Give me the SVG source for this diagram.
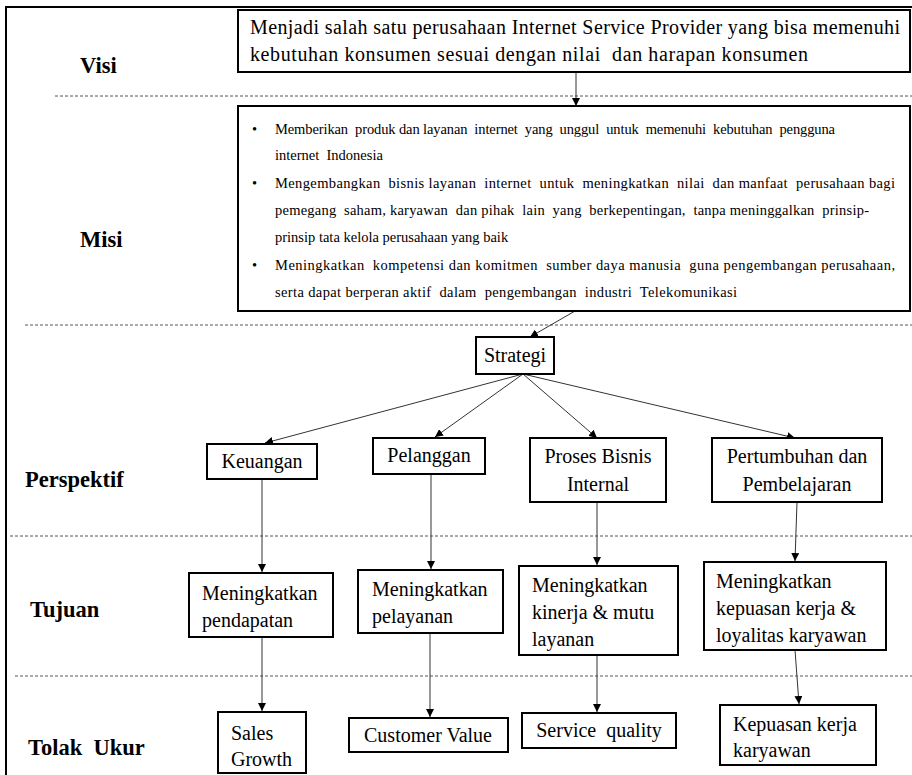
<svg xmlns="http://www.w3.org/2000/svg" width="912" height="775" viewBox="0 0 912 775">
<defs>
<marker id="ah" viewBox="0 0 10 10" refX="10" refY="5" markerWidth="8" markerHeight="8" markerUnits="userSpaceOnUse" orient="auto">
<path d="M0,0 L10,5 L0,10 z" fill="#000"/>
</marker>
<style>
.bx{fill:#fff;stroke:#000;stroke-width:2}
.t{font-family:"Liberation Serif","Times New Roman",serif;font-size:20px;fill:#000}
.m{font-family:"Liberation Serif","Times New Roman",serif;font-size:14.5px;fill:#000}
.lb{font-family:"Liberation Serif","Times New Roman",serif;font-size:22.5px;font-weight:bold;fill:#000}
.c{text-anchor:middle}
.dash{stroke:#555;stroke-width:1;stroke-dasharray:3,2;fill:none}
.cn{stroke:#333;stroke-width:1;fill:none;marker-end:url(#ah)}
</style>
</defs>
<rect width="912" height="775" fill="#fff"/>
<rect x="6" y="7" width="920" height="800" fill="none" stroke="#000" stroke-width="2"/>

<g id="separators">
<line class="dash" x1="55" y1="96" x2="912" y2="96"/>
<line class="dash" x1="25" y1="325" x2="912" y2="325"/>
<line class="dash" x1="10" y1="536" x2="912" y2="536"/>
<line class="dash" x1="15" y1="676" x2="912" y2="676"/>
</g>

<g id="labels">
<text class="lb" x="80" y="73">Visi</text>
<text class="lb" x="80" y="247">Misi</text>
<text class="lb" x="25" y="487">Perspektif</text>
<text class="lb" x="30" y="617">Tujuan</text>
<text class="lb" x="28" y="755" xml:space="preserve">Tolak  Ukur</text>
</g>

<g id="connectors">
<line class="cn" x1="576" y1="72" x2="576" y2="106"/>
<line class="cn" x1="575" y1="311" x2="530" y2="337"/>
<line class="cn" x1="523" y1="374" x2="265" y2="443"/>
<line class="cn" x1="523" y1="374" x2="435" y2="437"/>
<line class="cn" x1="523" y1="374" x2="597" y2="438"/>
<line class="cn" x1="523" y1="374" x2="795" y2="438"/>
<line class="cn" x1="262" y1="479" x2="262" y2="572"/>
<line class="cn" x1="431" y1="474" x2="431" y2="569"/>
<line class="cn" x1="597" y1="502" x2="597" y2="565"/>
<line class="cn" x1="797" y1="502" x2="795" y2="561"/>
<line class="cn" x1="262" y1="637" x2="262" y2="711"/>
<line class="cn" x1="430" y1="633" x2="430" y2="717"/>
<line class="cn" x1="597" y1="655" x2="597" y2="712"/>
<line class="cn" x1="795" y1="650" x2="799" y2="704"/>
</g>

<g id="visi">
<rect class="bx" x="238" y="10" width="672" height="62"/>
<text class="t" x="250" y="34" textLength="650">Menjadi salah satu perusahaan Internet Service Provider yang bisa memenuhi</text>
<text class="t" x="250" y="61" textLength="558" xml:space="preserve">kebutuhan konsumen sesuai dengan nilai  dan harapan konsumen</text>
</g>

<g id="misi">
<rect class="bx" x="238" y="106" width="672" height="205"/>
<text class="m" x="252" y="134">•</text>
<text class="m" x="275" y="134" textLength="560" xml:space="preserve">Memberikan  produk dan layanan  internet  yang  unggul  untuk  memenuhi  kebutuhan  pengguna</text>
<text class="m" x="275" y="160" xml:space="preserve">internet  Indonesia</text>
<text class="m" x="252" y="188">•</text>
<text class="m" x="275" y="188" textLength="620" xml:space="preserve">Mengembangkan  bisnis layanan  internet  untuk  meningkatkan  nilai  dan manfaat  perusahaan bagi</text>
<text class="m" x="275" y="215" textLength="594" xml:space="preserve">pemegang  saham, karyawan  dan pihak  lain  yang  berkepentingan,  tanpa meninggalkan  prinsip-</text>
<text class="m" x="275" y="242">prinsip tata kelola perusahaan yang baik</text>
<text class="m" x="252" y="270">•</text>
<text class="m" x="275" y="270" textLength="620" xml:space="preserve">Meningkatkan  kompetensi dan komitmen  sumber daya manusia  guna pengembangan perusahaan,</text>
<text class="m" x="275" y="297" textLength="462" xml:space="preserve">serta dapat berperan aktif  dalam  pengembangan  industri  Telekomunikasi</text>
</g>

<g id="strategi">
<rect class="bx" x="476" y="337" width="78" height="37"/>
<text class="t c" x="515" y="362">Strategi</text>
</g>

<g id="keuangan">
<rect class="bx" x="207" y="444" width="110" height="35"/>
<text class="t c" x="262" y="468">Keuangan</text>
</g>
<g id="pelanggan">
<rect class="bx" x="373" y="438" width="112" height="36"/>
<text class="t c" x="429" y="462">Pelanggan</text>
</g>
<g id="proses">
<rect class="bx" x="530" y="438" width="136" height="64"/>
<text class="t c" x="598" y="463">Proses Bisnis</text>
<text class="t c" x="598" y="491">Internal</text>
</g>
<g id="pertumbuhan">
<rect class="bx" x="712" y="438" width="170" height="64"/>
<text class="t c" x="797" y="463">Pertumbuhan dan</text>
<text class="t c" x="797" y="491">Pembelajaran</text>
</g>

<g id="tujuan1">
<rect class="bx" x="189" y="573" width="144" height="64"/>
<text class="t" x="202" y="600">Meningkatkan</text>
<text class="t" x="202" y="627">pendapatan</text>
</g>
<g id="tujuan2">
<rect class="bx" x="358" y="570" width="145" height="63"/>
<text class="t" x="372" y="596">Meningkatkan</text>
<text class="t" x="372" y="623">pelayanan</text>
</g>
<g id="tujuan3">
<rect class="bx" x="519" y="566" width="159" height="89"/>
<text class="t" x="532" y="592">Meningkatkan</text>
<text class="t" x="532" y="619">kinerja &amp; mutu</text>
<text class="t" x="532" y="646">layanan</text>
</g>
<g id="tujuan4">
<rect class="bx" x="704" y="562" width="182" height="88"/>
<text class="t" x="716" y="588">Meningkatkan</text>
<text class="t" x="716" y="615">kepuasan kerja &amp;</text>
<text class="t" x="716" y="642">loyalitas karyawan</text>
</g>

<g id="ukur1">
<rect class="bx" x="218" y="712" width="88" height="61"/>
<text class="t" x="231" y="740">Sales</text>
<text class="t" x="231" y="766">Growth</text>
</g>
<g id="ukur2">
<rect class="bx" x="349" y="718" width="159" height="34"/>
<text class="t c" x="428" y="742">Customer Value</text>
</g>
<g id="ukur3">
<rect class="bx" x="522" y="713" width="154" height="35"/>
<text class="t c" x="599" y="737" xml:space="preserve">Service  quality</text>
</g>
<g id="ukur4">
<rect class="bx" x="720" y="705" width="156" height="60"/>
<text class="t" x="733" y="731">Kepuasan kerja</text>
<text class="t" x="733" y="757">karyawan</text>
</g>
</svg>
